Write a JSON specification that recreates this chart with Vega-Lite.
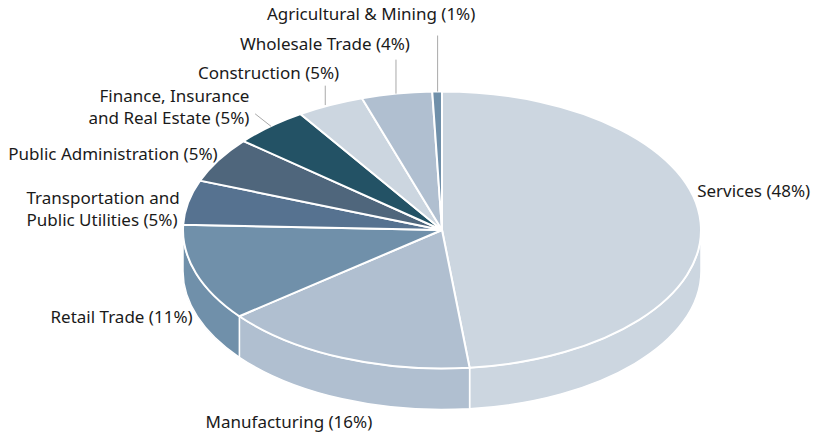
{
"$schema":"https://vega.github.io/schema/vega-lite/v6.json",
"width":744,"height":412,
"padding":{"left":70,"top":24,"right":0,"bottom":0},
"autosize":"none",
"background":"white",
"view":{"stroke":null},
"data":{"values":[
{"name":"Services","label":"Services (48%)","share":48.3},
{"name":"Manufacturing","label":"Manufacturing (16%)","share":16},
{"name":"Retail Trade","label":"Retail Trade (11%)","share":11.3},
{"name":"Transportation and Public Utilities","label":"Transportation and\nPublic Utilities (5%)","share":5.2},
{"name":"Public Administration","label":"Public Administration (5%)","share":5.3},
{"name":"Finance, Insurance and Real Estate","label":"Finance, Insurance\nand Real Estate (5%)","share":4.7},
{"name":"Construction","label":"Construction (5%)","share":4.2},
{"name":"Wholesale Trade","label":"Wholesale Trade (4%)","share":4.4},
{"name":"Agricultural & Mining","label":"Agricultural & Mining (1%)","share":0.6}
]},
"transform":[
{"window":[{"op":"sum","field":"share","as":"cum"}]},
{"calculate":"(datum.cum-datum.share)*PI/50","as":"t0"},
{"calculate":"datum.cum*PI/50","as":"t1"},
{"calculate":"(datum.t0+datum.t1)/2","as":"mid"},
{"calculate":"max(datum.t0,PI/2)","as":"a0"},
{"calculate":"min(datum.t1,3*PI/2)","as":"a1"},
{"calculate":"round(25900*sin(datum.t0))/100","as":"tx0"},
{"calculate":"round(-13850*cos(datum.t0))/100","as":"ty0"},
{"calculate":"round(25900*sin(datum.t1))/100","as":"tx1"},
{"calculate":"round(-13850*cos(datum.t1))/100","as":"ty1"},
{"calculate":"round(25900*sin(datum.a0))/100","as":"wx0"},
{"calculate":"round(-13850*cos(datum.a0))/100","as":"wy0"},
{"calculate":"round(25900*sin(datum.a1))/100","as":"wx1"},
{"calculate":"round(-13850*cos(datum.a1))/100","as":"wy1"},
{"calculate":"'M0,0L'+datum.tx0+','+datum.ty0+'A259,138.5 0 '+(datum.t1-datum.t0>PI?1:0)+' 1 '+datum.tx1+','+datum.ty1+'Z'","as":"topPath"},
{"calculate":"'M'+datum.wx0+','+datum.wy0+'A259,138.5 0 0 1 '+datum.wx1+','+datum.wy1+'L'+datum.wx1+','+(datum.wy1+41)+'A259,138.5 0 0 0 '+datum.wx0+','+(datum.wy0+41)+'Z'","as":"wallPath"},
{"calculate":"259*sin(datum.mid)","as":"rimX"},
{"calculate":"-138.5*cos(datum.mid)","as":"rimY"},
{"calculate":"{'Services':[-3.5,-30.5],'Manufacturing':[-53.2,65.7],'Retail Trade':[-3.3,45.1],'Transportation and Public Utilities':[-161.7,-3],'Public Administration':[-1,-5.2],'Finance, Insurance and Real Estate':[-20.7,-29],'Construction':[-61.7,-31.4],'Wholesale Trade':[-71.7,-49.1],'Agricultural & Mining':[-66,-76.5]}[datum.name]","as":"off"},
{"calculate":"datum.rimX+datum.off[0]","as":"labelX"},
{"calculate":"datum.rimY+datum.off[1]","as":"labelY"}
],
"layer":[
{"transform":[{"filter":"datum.a1>datum.a0"}],
 "mark":{"type":"point","filled":true,"opacity":1,"stroke":"white","strokeWidth":1.5},
 "encoding":{"shape":{"field":"wallPath","type":"nominal","scale":null,"legend":null},"size":{"value":4},
  "fill":{"field":"name","type":"nominal","legend":null,"scale":{"domain":["Services","Manufacturing","Retail Trade","Transportation and Public Utilities","Public Administration","Finance, Insurance and Real Estate","Construction","Wholesale Trade","Agricultural & Mining"],"range":["#ccd6e0","#b0bfd0","#7090aa","#567290","#4f667c","#235265","#ccd6e0","#b0bfd0","#7090aa"]}}}},
{"mark":{"type":"point","filled":true,"opacity":1,"stroke":"white","strokeWidth":2},
 "encoding":{"shape":{"field":"topPath","type":"nominal","scale":null,"legend":null},"size":{"value":4},
  "fill":{"field":"name","type":"nominal","legend":null}}},
{"transform":[
  {"filter":"indexof(['Construction','Wholesale Trade','Agricultural & Mining','Finance, Insurance and Real Estate'],datum.name)>=0"},
  {"calculate":"{'Construction':[-5,0,-19.4],'Wholesale Trade':[-0.7,0,-34],'Agricultural & Mining':[0.5,0,-56],'Finance, Insurance and Real Estate':[1,-16,-12.6]}[datum.name]","as":"lead"},
  {"calculate":"datum.rimX+datum.lead[0]","as":"lx1"},
  {"calculate":"datum.lx1+datum.lead[1]","as":"lx2"},
  {"calculate":"datum.rimY+datum.lead[2]","as":"ly2"}],
 "mark":{"type":"rule","color":"#a9a9a9","strokeWidth":1},
 "encoding":{"x":{"field":"lx1","type":"quantitative","scale":{"domain":[-372,372],"nice":false,"zero":false},"axis":null},"x2":{"field":"lx2"},
  "y":{"field":"rimY","type":"quantitative","scale":{"domain":[-206,206],"reverse":true,"nice":false,"zero":false},"axis":null},"y2":{"field":"ly2"}}},
{"transform":[{"filter":"indexof(['Services','Transportation and Public Utilities'],datum.name)>=0"}],
 "mark":{"type":"text","align":"left","baseline":"middle","font":"Noto Sans","fontSize":17,"lineBreak":"\n","lineHeight":22,"color":"#1a1a1a"},
 "encoding":{"x":{"field":"labelX","type":"quantitative","axis":null},"y":{"field":"labelY","type":"quantitative","axis":null},"text":{"field":"label","type":"nominal"}}},
{"transform":[{"filter":"indexof(['Retail Trade','Public Administration','Finance, Insurance and Real Estate'],datum.name)>=0"}],
 "mark":{"type":"text","align":"right","baseline":"middle","font":"Noto Sans","fontSize":17,"lineBreak":"\n","lineHeight":22,"color":"#1a1a1a"},
 "encoding":{"x":{"field":"labelX","type":"quantitative","axis":null},"y":{"field":"labelY","type":"quantitative","axis":null},"text":{"field":"label","type":"nominal"}}},
{"transform":[{"filter":"indexof(['Manufacturing','Construction','Wholesale Trade','Agricultural & Mining'],datum.name)>=0"}],
 "mark":{"type":"text","align":"center","baseline":"middle","font":"Noto Sans","fontSize":17,"lineBreak":"\n","lineHeight":22,"color":"#1a1a1a"},
 "encoding":{"x":{"field":"labelX","type":"quantitative","axis":null},"y":{"field":"labelY","type":"quantitative","axis":null},"text":{"field":"label","type":"nominal"}}}
]
}
